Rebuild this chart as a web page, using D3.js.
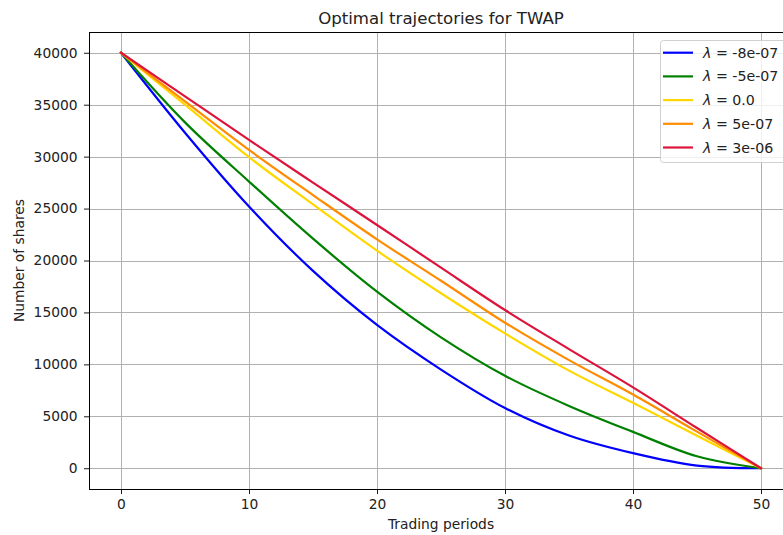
<!DOCTYPE html>
<html>
<head>
<meta charset="utf-8">
<script src="https://cdn.jsdelivr.net/npm/d3@7/dist/d3.min.js"></script>
<style>
  html, body { margin: 0; padding: 0; background: #fff; }
  svg { display: block; font-family: "DejaVu Sans", sans-serif; }
</style>
</head>
<body>
<svg id="chart" width="783" height="535"></svg>
<script>
// ---- data ----
const periods = [0, 5, 10, 15, 20, 25, 30, 35, 40, 45, 50];
const seriesLabels = ["-8e-07", "-5e-07", "0.0", "5e-07", "3e-06"];
const seriesColors = ["#0000ff", "#008000", "#ffd700", "#ff8c00", "#dc143c"];
const blueValues   = [40000, 32300, 25200, 19000, 13800, 9500, 5800, 3150, 1450, 250, 0];
const greenValues  = [40000, 33300, 27600, 22100, 17000, 12600, 8900, 6000, 3500, 1150, 0];
const yellowValues = [40000, 35000, 29950, 25400, 20950, 16850, 12980, 9400, 6300, 3120, 0];
const orangeValues = [40000, 35320, 30650, 26300, 22040, 18050, 14010, 10410, 7100, 3520, 0];
const redValues    = [40000, 35810, 31610, 27500, 23420, 19310, 15230, 11470, 7780, 3870, 0];
const xTicks = [0, 10, 20, 30, 40, 50];
const yTicks = [0, 5000, 10000, 15000, 20000, 25000, 30000, 35000, 40000];

const allSeries = [blueValues, greenValues, yellowValues, orangeValues, redValues];

// ---- layout ----
const svg = d3.select("#chart");
const L = 89, R = 793, T = 32, B = 489;
const FS = 13.8;
const x = d3.scaleLinear().domain([-2.5, 52.5]).range([L, R]);
const y = d3.scaleLinear().domain([-2000, 42000]).range([B, T]);

// grid
const grid = svg.append("g").attr("stroke", "#b0b0b0").attr("stroke-width", 1);
xTicks.forEach(t => grid.append("line")
  .attr("x1", Math.round(x(t)) + 0.5).attr("x2", Math.round(x(t)) + 0.5)
  .attr("y1", T).attr("y2", B));
yTicks.forEach(t => grid.append("line")
  .attr("x1", L).attr("x2", R)
  .attr("y1", Math.round(y(t)) + 0.5).attr("y2", Math.round(y(t)) + 0.5));

// lines
svg.append("clipPath").attr("id", "plotclip")
  .append("rect").attr("x", L).attr("y", T).attr("width", R - L).attr("height", B - T);
const line = d3.line()
  .x((d, i) => x(periods[i]))
  .y(d => y(d))
  .curve(d3.curveCatmullRom.alpha(0.5));
const linesG = svg.append("g").attr("clip-path", "url(#plotclip)");
allSeries.forEach((vals, k) => {
  linesG.append("path")
    .attr("d", line(vals))
    .attr("fill", "none")
    .attr("stroke", seriesColors[k])
    .attr("stroke-width", 2.2)
    .attr("stroke-linejoin", "round")
    .attr("stroke-linecap", "square");
});

// axes
const xAxis = d3.axisBottom(x).tickValues(xTicks).tickSize(5).tickPadding(5.5).tickFormat(d3.format("d"));
const yAxis = d3.axisLeft(y).tickValues(yTicks).tickSize(5).tickPadding(6.5).tickFormat(d3.format("d"));
const gx = svg.append("g").attr("transform", `translate(0,${B})`).call(xAxis);
const gy = svg.append("g").attr("transform", `translate(${L},0)`).call(yAxis);
[gx, gy].forEach(g => {
  g.select(".domain").remove();
  g.selectAll("line").attr("stroke", "#000").attr("stroke-width", 0.9);
  g.selectAll("text").attr("font-size", FS).attr("fill", "#222")
    .attr("font-family", "DejaVu Sans, sans-serif");
});

// spines
svg.append("rect").attr("x", L + 0.5).attr("y", T + 0.5)
  .attr("width", R - L).attr("height", B - T)
  .attr("fill", "none").attr("stroke", "#000").attr("stroke-width", 1);

// title & labels
svg.append("text").attr("x", (L + R) / 2).attr("y", 24)
  .attr("text-anchor", "middle").attr("font-size", 16.6).attr("fill", "#222")
  .text("Optimal trajectories for TWAP");
svg.append("text").attr("x", (L + R) / 2).attr("y", 528.5)
  .attr("text-anchor", "middle").attr("font-size", FS).attr("fill", "#222")
  .text("Trading periods");
svg.append("text")
  .attr("transform", `translate(23.5,${(T + B) / 2}) rotate(-90)`)
  .attr("text-anchor", "middle").attr("font-size", FS).attr("fill", "#222")
  .text("Number of shares");

// legend
const lg = svg.append("g");
lg.append("rect").attr("x", 660.5).attr("y", 40.5).attr("width", 128).attr("height", 122)
  .attr("rx", 3).attr("fill", "rgba(255,255,255,0.8)").attr("stroke", "#d0d0d0").attr("stroke-width", 1);
seriesLabels.forEach((lab, k) => {
  const yy = 52.7 + k * 23.7;
  lg.append("line").attr("x1", 663).attr("x2", 693).attr("y1", yy).attr("y2", yy)
    .attr("stroke", seriesColors[k]).attr("stroke-width", 2.2);
  const t = lg.append("text").attr("x", 703).attr("y", yy + 5)
    .attr("font-size", 14.2).attr("fill", "#222");
  t.append("tspan").attr("font-style", "italic").text("λ");
  t.append("tspan").text(" = " + lab);
});
</script>
</body>
</html>
